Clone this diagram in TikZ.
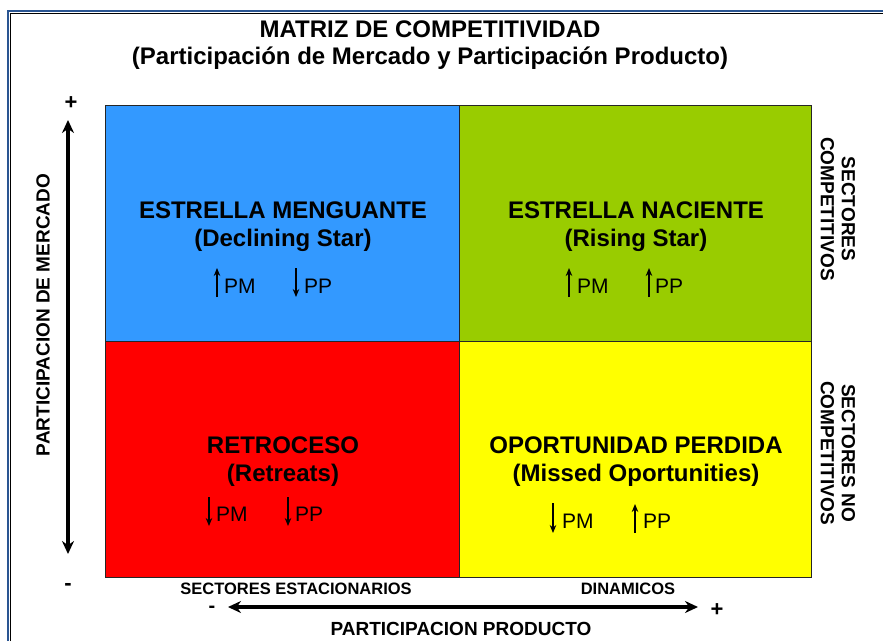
\documentclass[tikz,border=0pt]{standalone}
\usepackage{fontspec}
\setmainfont{Liberation Sans}
\usetikzlibrary{arrows.meta}
\definecolor{qblue}{HTML}{3399FF}
\definecolor{qgreen}{HTML}{99CC00}
\definecolor{qred}{HTML}{FF0000}
\definecolor{qyellow}{HTML}{FFFF00}
\definecolor{frameblue}{HTML}{2A5592}
\tikzset{
  quad/.style={draw=black!85, line width=1pt},
  qtitle/.style={font=\fontsize{24}{28}\selectfont\bfseries, inner sep=0pt},
  small/.style={font=\fontsize{21}{24}\selectfont, inner sep=0pt, anchor=west},
  axlabel/.style={font=\fontsize{19}{21}\selectfont\bfseries, inner sep=0pt, align=center},
  botlabel/.style={font=\fontsize{16.5}{20}\selectfont\bfseries, inner sep=0pt},
  sign/.style={font=\fontsize{22}{24}\selectfont\bfseries, inner sep=0pt},
  bigarrow/.style={line width=3.5pt, {Stealth[length=13pt,width=12pt]}-{Stealth[length=13pt,width=12pt]}},
  upar/.style={line width=1.2pt, -{Stealth[length=8pt,width=6.5pt]}},
}
\begin{document}
\begin{tikzpicture}[x=1pt,y=-1pt]
\useasboundingbox (0,0) rectangle (883,641);
% frame
\draw[black, line width=1pt] (10.5,641) -- (10.5,13.5) -- (883,13.5);
\draw[frameblue, line width=2.6pt] (8,641) -- (8,11) -- (883,11);
% title
\node[qtitle] (t1) at (430,29) {MATRIZ DE COMPETITIVIDAD};
\node[qtitle] (t2) at (430,58) {(Participación de Mercado y Participación Producto)};
% quadrants
\fill[qblue] (105,105) rectangle (459,341);
\fill[qgreen] (459,105) rectangle (811,341);
\fill[qred] (105,341) rectangle (459,577);
\fill[qyellow] (459,341) rectangle (811,577);
\draw[quad] (105,105) rectangle (811,577);
\draw[quad] (459,105) -- (459,577);
\draw[quad] (105,341) -- (811,341);
% quadrant texts
\node[qtitle] (q1a) at (283,210) {ESTRELLA MENGUANTE};
\node[qtitle] (q1b) at (283,240) {(Declining Star)};
\node[qtitle] (q2a) at (636,210) {ESTRELLA NACIENTE};
\node[qtitle] (q2b) at (636,240) {(Rising Star)};
\node[qtitle] (q3a) at (283,445) {RETROCESO};
\node[qtitle] (q3b) at (283,475) {(Retreats)};
\node[qtitle] (q4a) at (636,445) {OPORTUNIDAD PERDIDA};
\node[qtitle] (q4b) at (636,475) {(Missed Oportunities)};
% PM / PP
\node[small] (q1pm) at (224,286) {PM};
\node[small] (q1pp) at (304,286) {PP};
\node[small] (q2pm) at (577,286) {PM};
\node[small] (q2pp) at (655,286) {PP};
\node[small] (q3pm) at (216,514) {PM};
\node[small] (q3pp) at (295,514) {PP};
\node[small] (q4pm) at (562,521) {PM};
\node[small] (q4pp) at (643,521) {PP};
\coordinate (a1s) at (217,297); \coordinate (a1e) at (217,268);
\coordinate (a2s) at (296,268); \coordinate (a2e) at (296,297);
\coordinate (a3s) at (569,297); \coordinate (a3e) at (569,268);
\coordinate (a4s) at (649,297); \coordinate (a4e) at (649,268);
\coordinate (a5s) at (209,497); \coordinate (a5e) at (209,526);
\coordinate (a6s) at (288,497); \coordinate (a6e) at (288,526);
\coordinate (a7s) at (553,503); \coordinate (a7e) at (553,533);
\coordinate (a8s) at (635,533); \coordinate (a8e) at (635,504);
\foreach \i in {1,...,8} {\draw[upar] (a\i s) -- (a\i e);}
% left axis
\node[sign] (lp) at (71,103) {+};
\node[sign] (lm) at (68,587) {-};
\coordinate (la) at (68,120);
\coordinate (lb) at (68,554);
\draw[bigarrow] (la) -- (lb);
\node[axlabel, rotate=90] (lt) at (43,315) {PARTICIPACION DE MERCADO};
% right labels
\node[axlabel, rotate=-90] (r1) at (838,209) {SECTORES\\COMPETITIVOS};
\node[axlabel, rotate=-90] (r2) at (838,453) {SECTORES NO\\COMPETITIVOS};
% bottom axis
\node[botlabel] (b1) at (296,589) {SECTORES ESTACIONARIOS};
\node[botlabel] (b2) at (628,589) {DINAMICOS};
\node[sign, font=\fontsize{20}{22}\selectfont\bfseries] (bm) at (212,609) {-};
\node[sign] (bp) at (717,610) {+};
\coordinate (ba) at (228,607);
\coordinate (bb) at (698,607);
\draw[bigarrow] (ba) -- (bb);
\node[axlabel] (bt) at (461,629) {PARTICIPACION PRODUCTO};
\end{tikzpicture}
\end{document}
